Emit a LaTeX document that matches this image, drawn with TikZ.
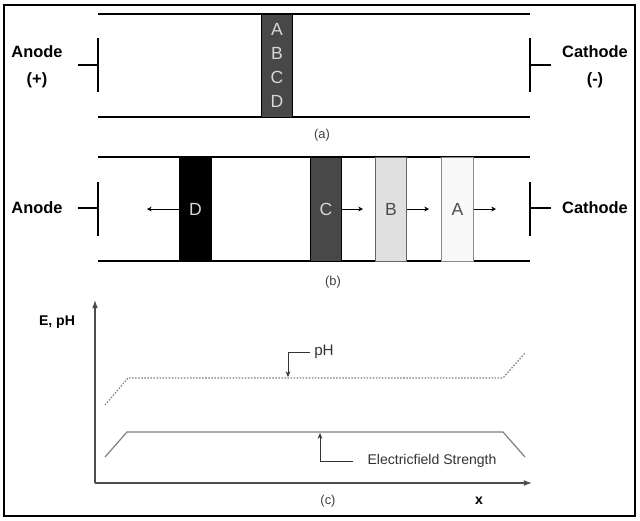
\documentclass[tikz,border=0pt]{standalone}
\usepackage{fontspec}
\setmainfont{Liberation Sans}
\definecolor{banddark}{RGB}{72, 72, 72}
\definecolor{bandlight}{RGB}{224, 224, 224}
\definecolor{bandpale}{RGB}{248, 248, 248}
\definecolor{curvegray}{RGB}{125, 125, 125}
\definecolor{lettergray}{RGB}{215, 215, 215}
\usetikzlibrary{arrows.meta, positioning}

\begin{document}
\begin{tikzpicture}[x=0.03cm, y=-0.03cm,
  tube/.style={line width=2pt},
  electrode/.style={line width=2pt},
  elabel/.style={font=\fontsize{14}{23}\selectfont\bfseries, align=center},
  band/.style={draw=black, line width=0.8pt, minimum width=0.95cm, minimum height=3.12cm, inner sep=0pt, font=\fontsize{15}{20.5}\selectfont},
  sublabel/.style={font=\fontsize{11}{13}\selectfont, text=black!75},
  drift/.style={-{Stealth[length=4pt, width=4pt]}, thin},
  curve/.style={curvegray, line width=1pt},
  callout/.style={-{Stealth[length=5pt, width=4pt]}, black!80, line width=0.6pt}
]
  \useasboundingbox (0,0) rectangle (640,520);
  \draw[line width=2.2pt] (4,5) rectangle (635,516);

  % (a) sample at the start
  \draw[tube] (98,14) -- (530,14);
  \draw[tube] (98,117) -- (530,117);
  \node[band, fill=banddark, minimum height=3.09cm, text=lettergray, align=center] (mix) at (277,65.5) {A\\B\\C\\D};
  \draw[electrode] (98,38) -- (98,92) (78,65) -- (98,65);
  \draw[electrode] (530,38) -- (530,92) (530,65) -- (551,65);
  \node[elabel] (anodeA) at (37,66.5) {Anode\\(+)};
  \node[elabel] (cathodeA) at (595,66.5) {Cathode\\(-)};
  \node[sublabel] (capA) at (322,135) {(a)};

  % (b) separated zones
  \draw[tube] (98,157) -- (530,157);
  \draw[tube] (98,261) -- (530,261);
  \node[band, fill=black, text=lettergray] (zD) at (195.5,209) {D};
  \node[band, fill=banddark, text=lettergray] (zC) at (326,209) {C};
  \node[band, fill=bandlight, draw=black!60, text=black!70] (zB) at (391,209) {B};
  \node[band, fill=bandpale, draw=black!45, text=black!70] (zA) at (457.5,209) {A};
  \coordinate (tipD) at (147,209);
  \coordinate (tipC) at (363,209);
  \coordinate (tipB) at (429,209);
  \coordinate (tipA) at (496,209);
  \draw[drift] (zD.west) -- (tipD);
  \draw[drift] (zC.east) -- (tipC);
  \draw[drift] (zB.east) -- (tipB);
  \draw[drift] (zA.east) -- (tipA);
  \draw[electrode] (98,182) -- (98,236) (78,208) -- (98,208);
  \draw[electrode] (530,182) -- (530,236) (530,208) -- (551,208);
  \node[elabel] (anodeB) at (37,208) {Anode};
  \node[elabel] (cathodeB) at (595,208) {Cathode};
  \node[sublabel] (capB) at (333,282) {(b)};

  % (c) profiles along the column
  \coordinate (origin) at (95,483);
  \coordinate (ytop) at (95,300);
  \coordinate (xend) at (532,483);
  \draw[black!70, line width=1.1pt, -{Latex[length=7pt, width=5pt]}] (origin) -- (ytop);
  \draw[black!70, line width=1.1pt, -{Latex[length=7pt, width=5pt]}] (origin) -- (xend);
  \node[font=\fontsize{12}{14}\selectfont\bfseries] (ylab) at (57,322) {E, pH};
  \node[font=\fontsize{12}{14}\selectfont\bfseries] (xlab) at (479,501) {x};
  \node[sublabel] (capC) at (328,501) {(c)};

  \draw[curve, dash pattern=on 1.3pt off 1.3pt] (105,405) -- (128,378) -- (503,378) -- (525,353);
  \draw[curve] (105,457) -- (127,432) -- (503,432) -- (525,457);

  \node[font=\fontsize{13}{15}\selectfont, text=black!80] (phlab) at (324,352) {pH};
  \coordinate (phpt) at (288,377);
  \draw[callout] (phlab.west) -| (phpt);

  \node[font=\fontsize{12}{14}\selectfont, text=black!80] (eflab) at (432,461) {Electricfield Strength};
  \coordinate (efpt) at (320,433);
  \draw[callout, shorten <=9pt] (eflab.west) -| (efpt);
\end{tikzpicture}
\end{document}
